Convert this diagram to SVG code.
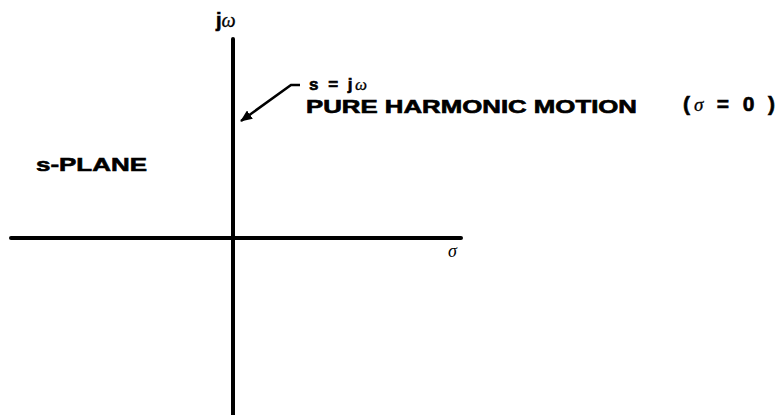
<svg xmlns="http://www.w3.org/2000/svg" width="779" height="415" viewBox="0 0 779 415">
<style>
.t{font-family:"Liberation Sans",Arial,sans-serif;font-weight:bold;fill:#000;stroke:#000;stroke-width:0.6}
.g{font-family:"Liberation Serif","DejaVu Serif",serif;font-style:italic;fill:#000}
.ax{stroke:#000;stroke-width:4;stroke-linecap:round;fill:none}
</style>
<defs>
<marker id="ah" markerWidth="12" markerHeight="10" refX="11" refY="5" orient="auto" markerUnits="userSpaceOnUse">
<path d="M0,0 L12,5 L0,10 Z" fill="#000"/>
</marker>
</defs>
<rect width="779" height="415" fill="#fff"/>
<g id="connectors">
<line id="imag-axis" class="ax" x1="233" y1="39" x2="233" y2="415"/>
<line id="real-axis" class="ax" x1="11" y1="238" x2="461" y2="238"/>
<path id="arrow" d="M300,85 L291,85 L241,121" stroke="#000" stroke-width="2.5" fill="none" marker-end="url(#ah)"/>
</g>
<g id="label-jw"><text class="t" x="216" y="27" font-size="20">j<tspan class="g" font-weight="normal" stroke-width="0.3">ω</tspan></text></g>
<g id="label-s-eq"><text class="t" x="309" y="90" font-size="17" textLength="58" lengthAdjust="spacing">s = j<tspan class="g" font-weight="normal" stroke-width="0.3">ω</tspan></text></g>
<g id="label-pure"><text class="t" x="306" y="113" font-size="17.5" textLength="331" lengthAdjust="spacingAndGlyphs">PURE HARMONIC MOTION</text></g>
<g id="label-sigma0"><text class="t" x="683" y="111" font-size="21" textLength="92" lengthAdjust="spacing">(<tspan class="g" font-weight="normal" font-size="19" stroke-width="0.3">σ</tspan> = 0 )</text></g>
<g id="label-splane"><text class="t" x="36" y="171" font-size="19" textLength="111" lengthAdjust="spacingAndGlyphs">s-PLANE</text></g>
<g id="label-sigma"><text class="g" x="448" y="257" font-size="18">σ</text></g>
</svg>
